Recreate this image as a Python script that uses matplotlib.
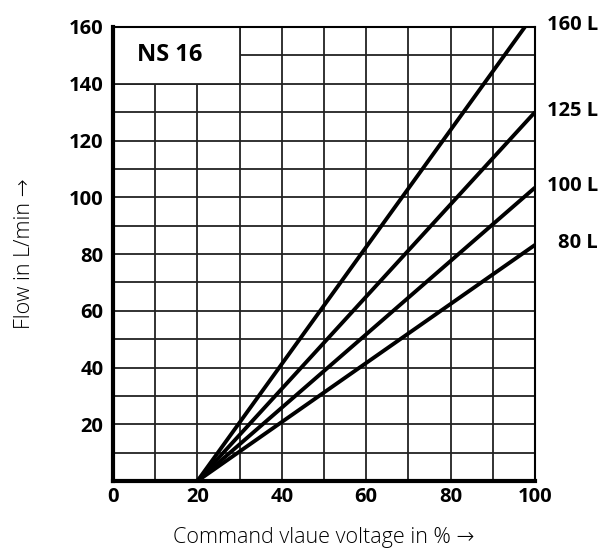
import matplotlib
matplotlib.use("Agg")
import matplotlib.pyplot as plt
from matplotlib.patches import Rectangle

plt.rcParams['font.family'] = ['Open Sans', 'DejaVu Sans']

# Data
x_start = 20
series_labels = ["160 L", "125 L", "100 L", "80 L"]
x_end = [97.6, 100, 100, 100]
y_end = [160, 130, 103.4, 83.2]
x_ticks = [0, 20, 40, 60, 80, 100]
y_ticks = [20, 40, 60, 80, 100, 120, 140, 160]
label_y = [160.7, 130.4, 104.0, 83.9]

fig = plt.figure(figsize=(6.03, 5.51), dpi=100)
ax = fig.add_axes([0.1874, 0.127, 0.6998, 0.824])
ax.set_xlim(0, 100)
ax.set_ylim(0, 160)

# grid
for gx in range(10, 100, 10):
    ax.axvline(gx, color='#222222', lw=1.3, zorder=1)
for gy in range(10, 160, 10):
    ax.axhline(gy, color='#222222', lw=1.3, zorder=1)

# title box covering grid
ax.add_patch(Rectangle((0, 140), 30, 20, facecolor='white', edgecolor='none', zorder=2))
ax.plot([30, 30], [140, 160], color='#222222', lw=1.3, zorder=2)
ax.plot([0, 30], [140, 140], color='#222222', lw=1.3, zorder=2)
ax.text(13.5, 150, "NS 16", fontsize=17, fontweight='bold', ha='center', va='center', zorder=3)

for xe, ye in zip(x_end, y_end):
    ax.plot([x_start, xe], [0, ye], color='black', lw=2.8, solid_capstyle='butt', zorder=4)

for lab, ly in zip(series_labels, label_y):
    ax.text(1.149, ly, lab, transform=ax.get_yaxis_transform(), fontsize=14.5,
            fontweight='bold', ha='right', va='center')

ax.set_xticks(x_ticks)
ax.set_xticklabels([str(v) for v in x_ticks], fontsize=14.5, fontweight='bold')
ax.set_yticks(y_ticks)
ax.set_yticklabels([str(v) for v in y_ticks], fontsize=14.5, fontweight='bold')
ax.tick_params(axis='y', length=0, pad=7)
ax.tick_params(axis='x', length=0, pad=4.5)

ax.spines['left'].set_linewidth(3)
ax.spines['bottom'].set_linewidth(3)
ax.spines['top'].set_linewidth(1.5)
ax.spines['right'].set_linewidth(1.5)
for s in ax.spines.values():
    s.set_zorder(5)

ax.set_xlabel("Command vlaue voltage in % \u2192", fontsize=15.5, fontweight='light', labelpad=14)
ax.set_ylabel("Flow in L/min \u2192", fontsize=15.5, fontweight='light', labelpad=24)

fig.savefig("out.png", dpi=100)
